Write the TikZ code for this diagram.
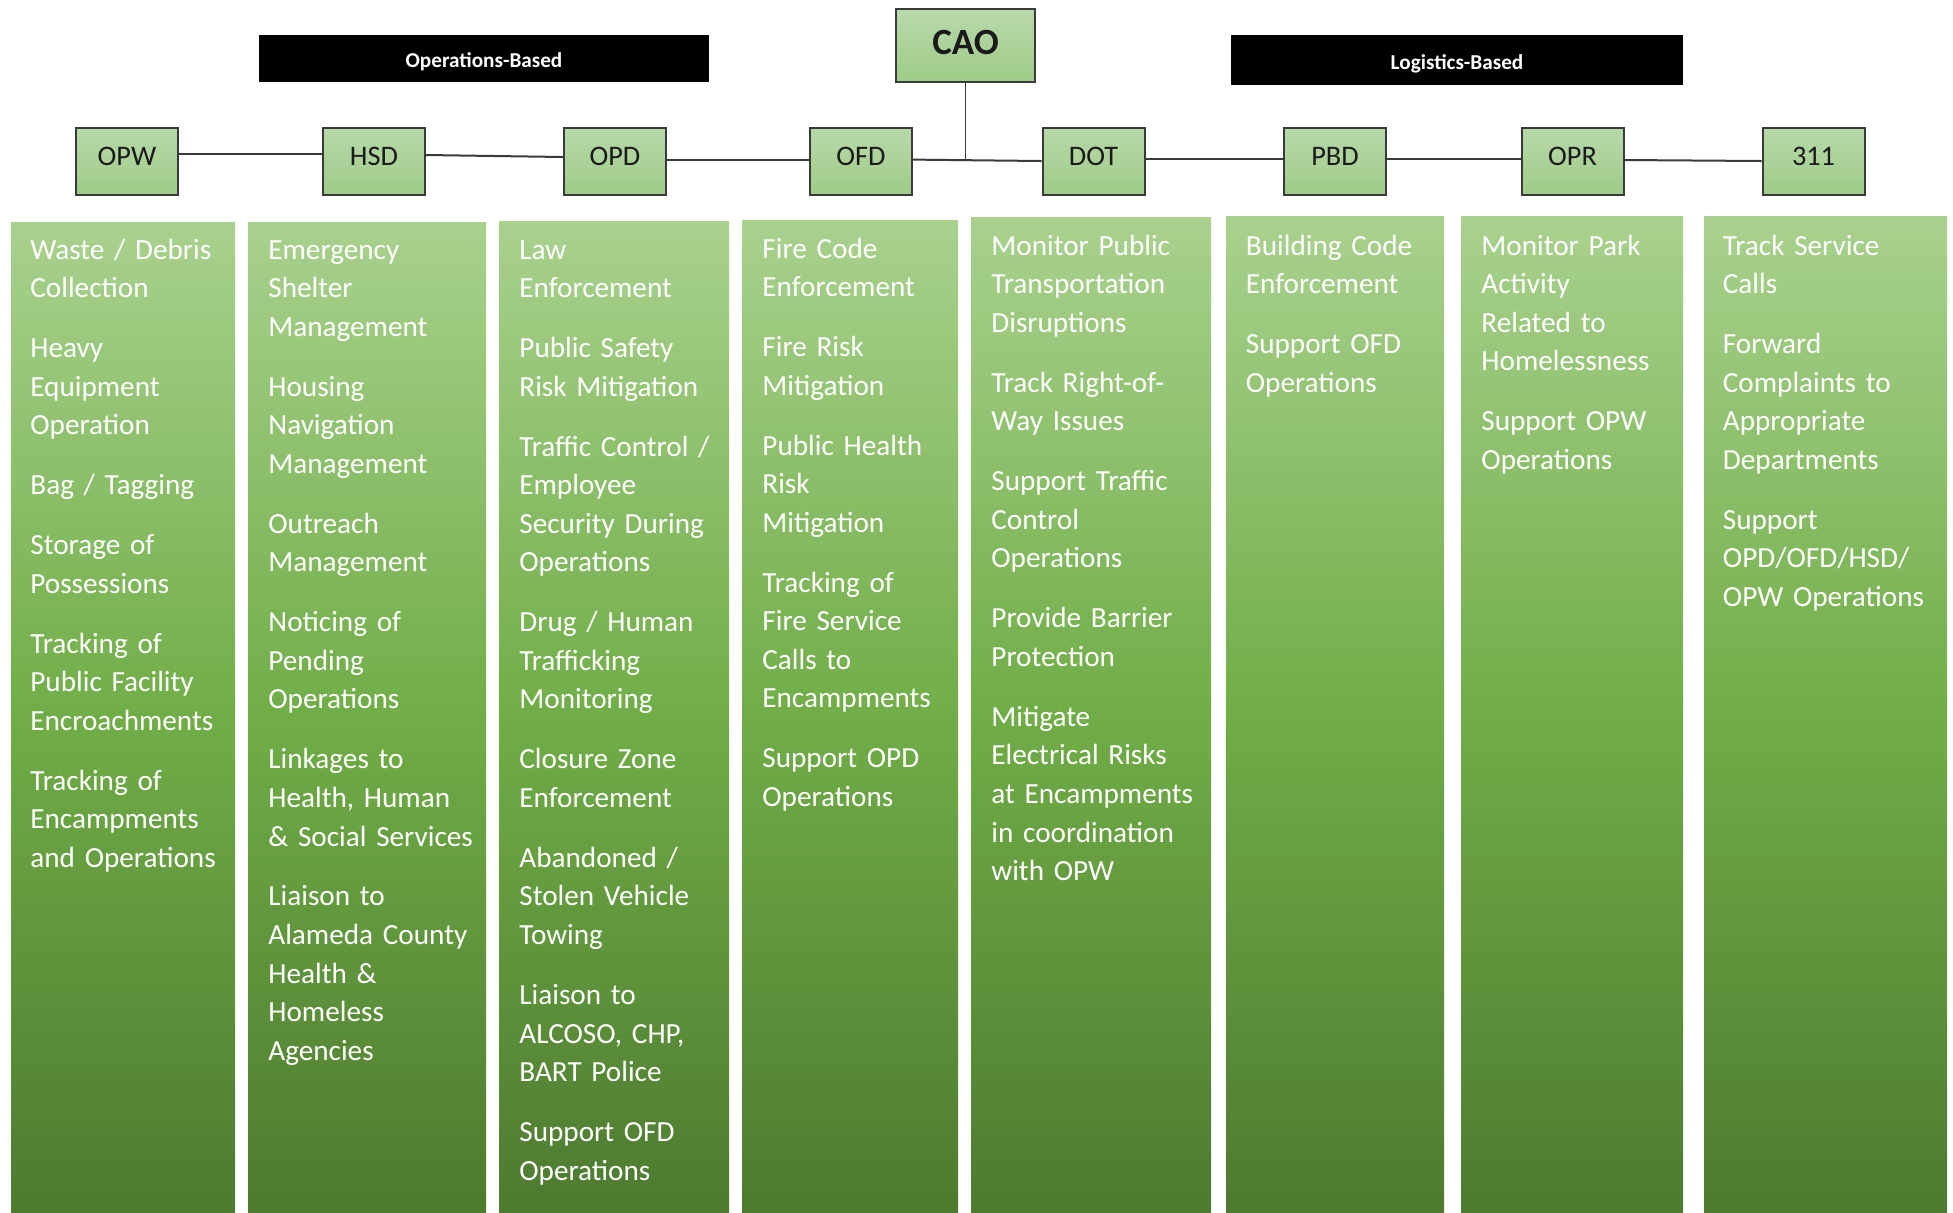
\documentclass[tikz,border=0pt]{standalone}
\usepackage{fontspec}
\setmainfont{Carlito}
\definecolor{lvltop}{HTML}{B8D9AA}
\definecolor{lvlbot}{HTML}{9FCB88}
\definecolor{lineg}{HTML}{3A3A3A}
\definecolor{txtdark}{HTML}{1A1A1A}
\definecolor{coltop}{HTML}{A9D18E}
\definecolor{colmid}{HTML}{70AD47}
\definecolor{colbot}{HTML}{4E7A30}
\newcommand{\colgap}{10.65pt}
\begin{document}
\begin{tikzpicture}[x=0.5pt,y=-0.5pt,
  lvl/.style={draw=lineg, line width=1pt, top color=lvltop, bottom color=lvlbot,
    minimum width=51pt, minimum height=33.5pt, inner sep=0pt, text=txtdark,
    text height=9.1pt, text depth=5pt,
    font=\fontsize{14.15pt}{17pt}\selectfont},
  cao/.style={lvl, minimum width=69.5pt, minimum height=36.5pt,
    text height=11.9pt, text depth=2.5pt,
    font=\bfseries\fontsize{18.5pt}{22pt}\selectfont},
  bar/.style={fill=black, text=white, inner sep=0pt,
    text height=9.3pt, text depth=0pt,
    font=\bfseries\fontsize{10.6pt}{12pt}\selectfont},
  colbox/.style={top color=coltop, bottom color=colbot, middle color=colmid},
  coltext/.style={anchor=base west, inner sep=0pt, text=white, align=left,
    text width=125pt, font=\fontsize{14.6pt}{19.3pt}\selectfont},
  conn/.style={draw=lineg, line width=1pt}]
\useasboundingbox (0,0) rectangle (1953,1212);

% header bars
\node[bar, minimum width=225pt, minimum height=23.5pt] (opsb) at (484,58.5) {Operations-Based};
\node[bar, minimum width=226pt, minimum height=25pt] (logb) at (1457,60) {Logistics-Based};

% CAO and departments
\node[cao] (cao) at (965.5,45.5) {CAO};
\node[lvl] (opw) at (127,161) {OPW};
\node[lvl] (hsd) at (374,161) {HSD};
\node[lvl] (opd) at (615,161) {OPD};
\node[lvl] (ofd) at (861,161) {OFD};
\node[lvl] (dot) at (1093.5,161) {DOT};
\node[lvl] (pbd) at (1335,161) {PBD};
\node[lvl] (opr) at (1572.5,161) {OPR};
\node[lvl] (t311) at (1813.5,161) {311};

% connectors
\draw[conn] ([yshift=3.5pt]opw.east) -- ([yshift=3.5pt]hsd.west);
\draw[conn] ([yshift=3pt]hsd.west -| hsd.east) -- ([yshift=2pt]opd.west);
\draw[conn] ([yshift=0.5pt]opd.east) -- ([yshift=0.5pt]ofd.west);
\draw[conn] ([yshift=0.7pt]ofd.east) -- ([yshift=0pt]dot.west);
\coordinate (j) at (cao.south |- 0,160);
\draw[conn, line width=0.8pt] (cao.south) -- (j);
\draw[conn] ([yshift=1pt]dot.east) -- ([yshift=1pt]pbd.west);
\draw[conn] ([yshift=1pt]pbd.east) -- ([yshift=1pt]opr.west);
\draw[conn] ([yshift=0.5pt]opr.east) -- ([yshift=0pt]t311.west);

% columns
\path[colbox] (11,222) rectangle (235,1212);
\path[colbox] (248,222) rectangle (486,1212);
\path[colbox] (499,221) rectangle (729,1212);
\path[colbox] (742,220) rectangle (958,1212);
\path[colbox] (971,217) rectangle (1211,1212);
\path[colbox] (1226,216) rectangle (1444,1212);
\path[colbox] (1461,216) rectangle (1683,1212);
\path[colbox] (1704,216) rectangle (1947,1212);

% column texts
\node[coltext] (x1) at (30,259) {Waste / Debris\\Collection\\[\colgap]Heavy\\Equipment\\Operation\\[\colgap]Bag / Tagging\\[\colgap]Storage of\\Possessions\\[\colgap]Tracking of\\Public Facility\\Encroachments\\[\colgap]Tracking of\\Encampments\\and Operations};
\node[coltext] (x2) at (268,259) {Emergency\\Shelter\\Management\\[\colgap]Housing\\Navigation\\Management\\[\colgap]Outreach\\Management\\[\colgap]Noticing of\\Pending\\Operations\\[\colgap]Linkages to\\Health, Human\\\& Social Services\\[\colgap]Liaison to\\Alameda County\\Health \&\\Homeless\\Agencies};
\node[coltext] (x3) at (519,259) {Law\\Enforcement\\[\colgap]Public Safety\\Risk Mitigation\\[\colgap]Traffic Control /\\Employee\\Security During\\Operations\\[\colgap]Drug / Human\\Trafficking\\Monitoring\\[\colgap]Closure Zone\\Enforcement\\[\colgap]Abandoned /\\Stolen Vehicle\\Towing\\[\colgap]Liaison to\\ALCOSO, CHP,\\BART Police\\[\colgap]Support OFD\\Operations};
\node[coltext] (x4) at (762,258) {Fire Code\\Enforcement\\[\colgap]Fire Risk\\Mitigation\\[\colgap]Public Health\\Risk\\Mitigation\\[\colgap]Tracking of\\Fire Service\\Calls to\\Encampments\\[\colgap]Support OPD\\Operations};
\node[coltext] (x5) at (991,255) {Monitor Public\\Transportation\\Disruptions\\[\colgap]Track Right-of-\\Way Issues\\[\colgap]Support Traffic\\Control\\Operations\\[\colgap]Provide Barrier\\Protection\\[\colgap]Mitigate\\Electrical Risks\\at Encampments\\in coordination\\with OPW};
\node[coltext] (x6) at (1245.5,255) {Building Code\\Enforcement\\[\colgap]Support OFD\\Operations};
\node[coltext] (x7) at (1481,255) {Monitor Park\\Activity\\Related to\\Homelessness\\[\colgap]Support OPW\\Operations};
\node[coltext] (x8) at (1722.5,255) {Track Service\\Calls\\[\colgap]Forward\\Complaints to\\Appropriate\\Departments\\[\colgap]Support\\OPD/OFD/HSD/\\OPW Operations};
\end{tikzpicture}
\end{document}
